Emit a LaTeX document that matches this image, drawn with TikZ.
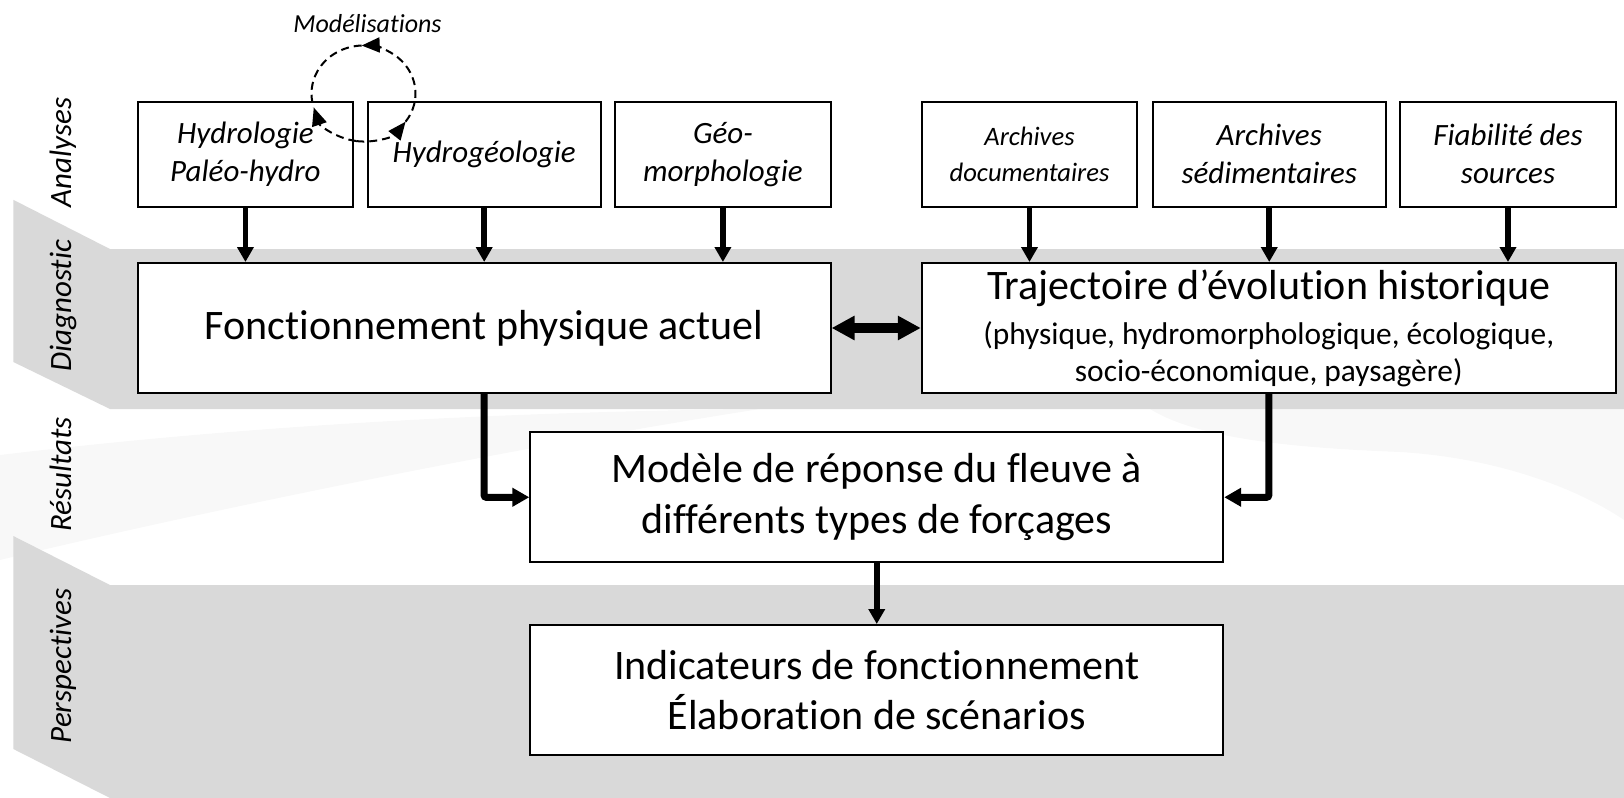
\documentclass[tikz,border=0pt]{standalone}
\usepackage{fontspec}
\setmainfont{Carlito}[Ligatures=NoCommon]
\usetikzlibrary{arrows.meta,calc}
\definecolor{bandgray}{HTML}{D9D9D9}
\definecolor{swooshgray}{HTML}{F8F8F8}
\newcommand{\bigfnt}{\fontsize{21}{25.4}\selectfont}
\newcommand{\subfnt}{\fontsize{15.7}{18.5}\selectfont}
\newcommand{\smallitfnt}{\fontsize{15.5}{19}\selectfont\itshape}
\newcommand{\docitfnt}{\fontsize{13.3}{18}\selectfont\itshape}
\newcommand{\bandfnt}{\fontsize{15.5}{19}\selectfont\itshape}
\newcommand{\modfnt}{\fontsize{13}{16}\selectfont\itshape}
\tikzset{
  box/.style={draw=black, line width=1pt, fill=white, inner sep=0pt, align=center, anchor=center},
  smallbox/.style={box, font=\smallitfnt, minimum height=52.75pt},
  bigbox/.style={box, font=\bigfnt, minimum height=65pt, minimum width=346.45pt},
  downarrow/.style={line width=2.8pt, -{Triangle[length=7.5pt,width=8pt]}},
  elbowarrow/.style={line width=3.5pt, rounded corners=1pt, -{Triangle[length=8.5pt,width=9pt]}},
  dblarrow/.style={line width=5pt, {Triangle[length=11.5pt,width=11.5pt]}-{Triangle[length=11.5pt,width=11.5pt]}},
  cyclearc/.style={line width=1pt, dash pattern=on 4pt off 2.5pt},
  cyclehead/.style={cyclearc, -{Triangle[length=9pt,width=7.5pt]}},
  bandlabel/.style={font=\bandfnt, rotate=90, anchor=base},
}
\begin{document}
\begin{tikzpicture}[x=0.5pt,y=-0.5pt]
\useasboundingbox (0,0) rectangle (1624,798);
% faint background swooshes
\fill[swooshgray] (0,455) .. controls (250,425) and (500,412) .. (760,409)
   .. controls (560,440) and (250,500) .. (0,560) -- cycle;
\fill[swooshgray] (1150,409) .. controls (1200,440) and (1300,448) .. (1400,452)
   .. controls (1500,458) and (1580,490) .. (1624,520) -- (1624,409) -- cycle;
% gray bands
\fill[bandgray] (13.3,199.8) -- (110,249) -- (1624,249) -- (1624,409) -- (110,409) -- (13.3,362) -- cycle;
\fill[bandgray] (13.3,536) -- (110,585) -- (1624,585) -- (1624,798) -- (110,798) -- (13.3,749) -- cycle;
% band labels
\node[bandlabel] (lanal) at (71,152.5) {Analyses};
\node[bandlabel] (ldiag) at (71,305.6) {Diagnostic};
\node[bandlabel] (lres) at (71,474.5) {Résultats};
\node[bandlabel] (lpers) at (71,666) {Perspectives};
% small boxes
\node[smallbox, minimum width=107.75pt] (hyd) at (245.45,154.25) {Hydrologie\\Paléo-hydro};
\node[smallbox, minimum width=116.5pt] (hgeo) at (484.2,154.25) {Hydrogéologie};
\node[smallbox, minimum width=107.7pt] (geom) at (722.9,154.25) {Géo-\\morphologie};
\node[smallbox, font=\docitfnt, minimum width=107.7pt] (adoc) at (1029.5,154.25) {Archives\\documentaires};
\node[smallbox, minimum width=116.55pt] (ased) at (1269.25,154.25) {Archives\\sédimentaires};
\node[smallbox, minimum width=107.7pt] (fiab) at (1508,154.25) {Fiabilité des\\sources};
% big boxes
\node[bigbox] (fonc) at (484.15,328) {Fonctionnement physique actuel};
\node[bigbox, font=\subfnt, minimum width=346.95pt] (traj) at (1268.75,328)
  {{\bigfnt Trajectoire d’évolution historique}\\[4pt](physique, hydromorphologique, écologique,\\socio-économique, paysagère)};
\node[bigbox] (mod) at (876.75,497.25) {Modèle de réponse du fleuve à\\différents types de forçages};
\node[bigbox] (ind) at (876.75,690) {Indicateurs de fonctionnement\\Élaboration de scénarios};
% modelling loop
\coordinate (lc) at (363.5,93.5);
\node[font=\modfnt] (modl) at (367.5,24) {Modélisations};
\draw[cyclehead] ($(lc)+(262:26pt and 24pt)$) arc[start angle=262, end angle=197, x radius=26pt, y radius=24pt];
\draw[cyclehead] ($(lc)+(262:26pt and 24pt)$) arc[start angle=262, end angle=324, x radius=26pt, y radius=24pt];
\draw[cyclehead] ($(lc)+(324:26pt and 24pt)$) arc[start angle=324, end angle=452, x radius=26pt, y radius=24pt];
\draw[cyclearc] ($(lc)+(92:26pt and 24pt)$) arc[start angle=92, end angle=197, x radius=26pt, y radius=24pt];
% arrows
\foreach \s in {hyd,hgeo,geom}{\draw[downarrow] (\s.south) -- (\s.south |- fonc.north);}
\foreach \s in {adoc,ased,fiab}{\draw[downarrow] (\s.south) -- (\s.south |- traj.north);}
\draw[dblarrow] (fonc.east) -- (traj.west);
\draw[elbowarrow] (fonc.south) |- (mod.west);
\draw[elbowarrow] (traj.south) |- (mod.east);
\draw[downarrow] (mod.south) -- (ind.north);
\end{tikzpicture}
\end{document}
